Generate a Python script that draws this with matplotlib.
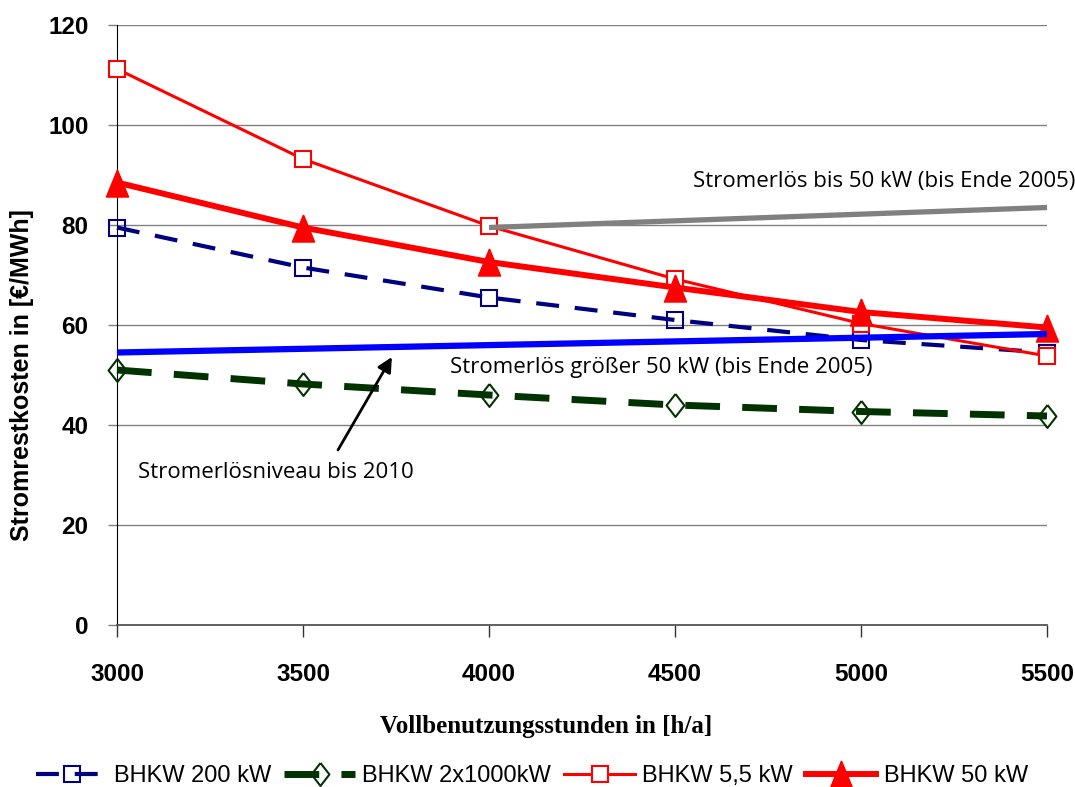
import matplotlib
matplotlib.use("Agg")
import matplotlib.pyplot as plt

# Daten (Vollbenutzungsstunden in h/a, Stromrestkosten in EUR/MWh)
stunden = [3000, 3500, 4000, 4500, 5000, 5500]
bhkw_200 = [79.5, 71.5, 65.5, 61.0, 57.0, 54.5]
bhkw_2x1000 = [51.0, 48.2, 46.0, 44.0, 42.7, 41.8]
bhkw_5_5 = [111.2, 93.2, 79.8, 69.2, 60.3, 53.8]
bhkw_50 = [88.5, 79.5, 72.6, 67.5, 62.6, 59.5]

# Stromerloes-Niveaus
erloes_bis50_x = [4000, 5500]
erloes_bis50_y = [79.5, 83.5]
erloes_gr50_x = [3000, 5500]
erloes_gr50_y = [54.5, 58.2]

yticks = [0, 20, 40, 60, 80, 100, 120]

W, H = 1075, 787
fig = plt.figure(figsize=(W / 100, H / 100), dpi=100)
ax = fig.add_axes([117 / W, 1 - 625 / H, (1047 - 117) / W, 600 / H])

sans = "Liberation Sans"
serif = "Liberation Serif"
note = "Open Sans"

diamond = [(0, 1), (0.78, 0), (0, -1), (-0.78, 0), (0, 1)]
triangle = [(0, 1), (0.82, -1), (-0.82, -1), (0, 1)]

ax.plot(stunden, bhkw_200, color="#000080", lw=3, dashes=(5.5, 3.8),
        marker="s", ms=11.5, mfc="none", mec="#000080", mew=1.5,
        label="BHKW 200 kW", zorder=3, clip_on=False)
ax.plot(stunden, bhkw_2x1000, color="#003300", lw=5, dashes=(5.0, 3.2),
        marker=diamond, ms=16.5, mfc="none", mec="#003300", mew=1.5,
        label="BHKW 2x1000kW", zorder=3, clip_on=False)
ax.plot(stunden, bhkw_5_5, color="#ff0000", lw=2.2,
        marker="s", ms=12, mfc="white", mec="#ff0000", mew=1.5,
        label="BHKW 5,5 kW", zorder=4, clip_on=False)
ax.plot(stunden, bhkw_50, color="#ff0000", lw=4.3,
        marker=triangle, ms=19.5, mfc="#ff0000", mec="#ff0000",
        label="BHKW 50 kW", zorder=5, clip_on=False)

ax.plot(erloes_bis50_x, erloes_bis50_y, color="#808080", lw=3.8,
        solid_capstyle="butt", zorder=6, clip_on=False)
ax.plot(erloes_gr50_x, erloes_gr50_y, color="#0000ff", lw=4.5,
        solid_capstyle="butt", zorder=6, clip_on=False)

ax.text(5062, 88.8, "Stromerlös bis 50 kW (bis Ende 2005)", ha="center",
        va="center", fontsize=16, family=note)
ax.text(4462, 51.6, "Stromerlös größer 50 kW (bis Ende 2005)", ha="center",
        va="center", fontsize=16, family=note)
ax.text(3427, 30.4, "Stromerlösniveau bis 2010", ha="center",
        va="center", fontsize=16, family=note)
ax.annotate("", xy=(3739, 53.6), xytext=(3594, 35),
            arrowprops=dict(arrowstyle="-|>", color="black", lw=2,
                            mutation_scale=22, shrinkA=0, shrinkB=0))

ax.set_xlim(3000, 5500)
ax.set_ylim(0, 120)
ax.set_xticks(stunden)
ax.set_yticks(yticks)
ax.yaxis.grid(True, color="#808080", lw=1)
ax.set_axisbelow(True)

for s in ["top", "right"]:
    ax.spines[s].set_visible(False)
ax.spines["left"].set_color("black")
ax.spines["bottom"].set_color("#555555")
ax.spines["bottom"].set_linewidth(1.3)

ax.tick_params(axis="x", direction="out", length=8.5, width=1, color="#333333",
               pad=19, labelsize=17.5)
ax.tick_params(axis="y", direction="out", length=6.5, width=1, color="#808080",
               pad=14, labelsize=17.5)
for lab in ax.get_xticklabels() + ax.get_yticklabels():
    lab.set_fontfamily(sans)
    lab.set_fontweight("bold")

fig.text(22 / W, 1 - 375 / H, "Stromrestkosten in [€/MWh]", rotation=90,
         ha="center", va="center", fontsize=18, fontweight="bold", family=sans)
fig.text(546 / W, 1 - 726 / H, "Vollbenutzungsstunden in [h/a]",
         ha="center", va="center", fontsize=18, fontweight="bold", family=serif)

fig.legend(loc="center", bbox_to_anchor=(532 / W, 1 - 776 / H), ncol=4,
           frameon=False, prop={"family": sans, "size": 17},
           handlelength=3.0, handletextpad=0.3, columnspacing=0.55,
           borderpad=0.1)

fig.savefig("out.png", dpi=100)
